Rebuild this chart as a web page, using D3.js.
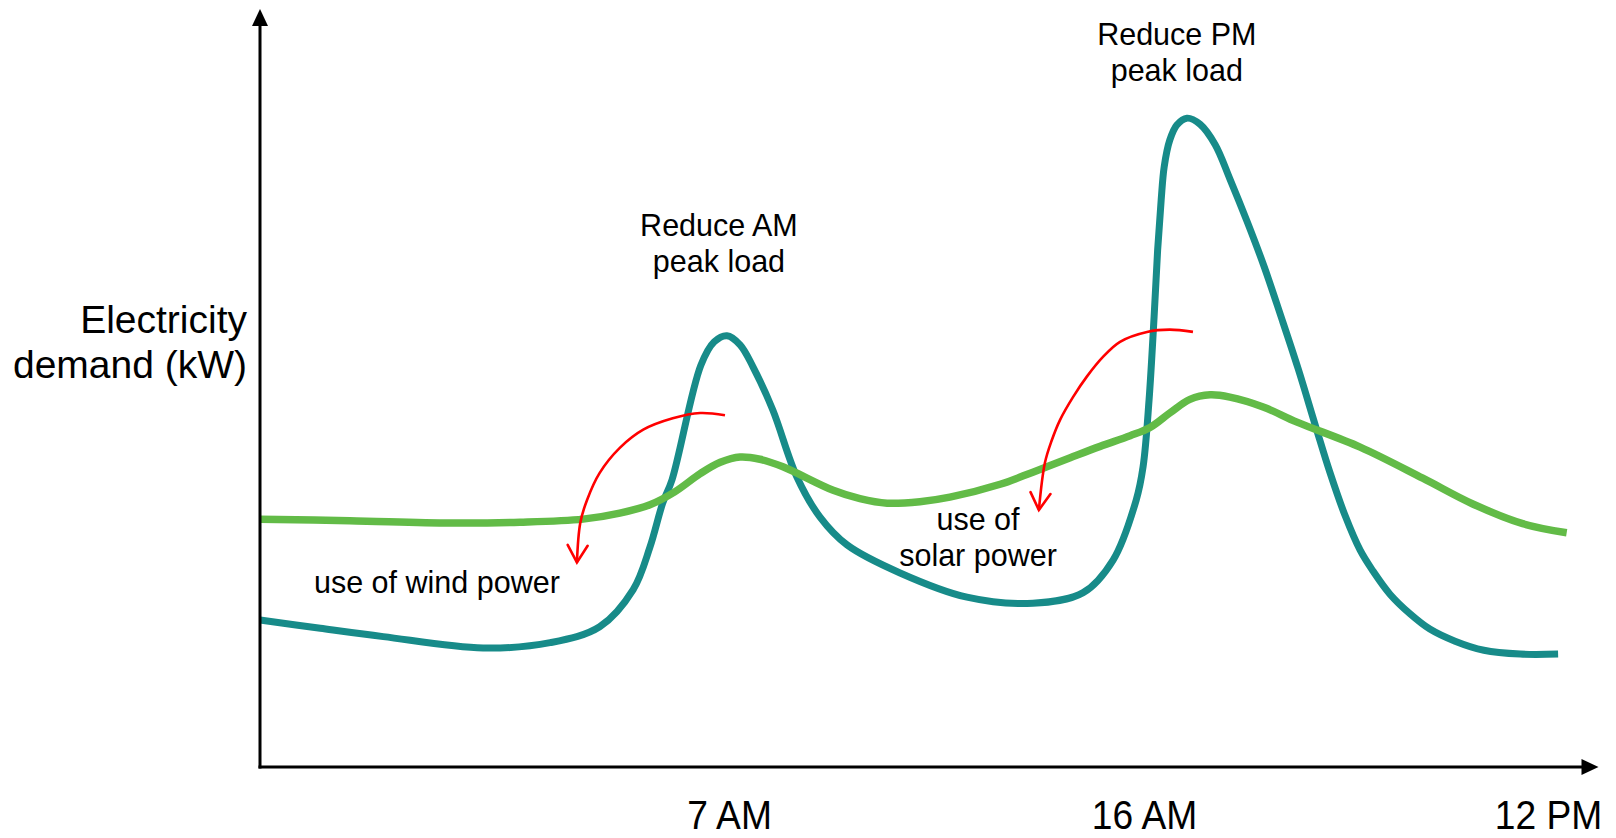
<!DOCTYPE html>
<html><head><meta charset="utf-8">
<script src="https://cdn.jsdelivr.net/npm/d3@7"></script>
<style>
html,body{margin:0;padding:0;background:#fff;}
svg{display:block;font-family:"Liberation Sans",Arial,Helvetica,sans-serif;}
</style></head><body>
<svg id="chart" width="1616" height="838"></svg>
<script>
// ---------- data ----------
const hourKnots = [0, 7, 16, 24];          // x-scale knots (hours)
const tickValues = [7, 16, 24];
const tickLabels = ["7 AM", "16 AM", "12 PM"];
const xMax = 25;
const yMax = 100;
const yLabelLines = ["Electricity", "demand (kW)"];

// original demand profile (teal)
const demandHours = [0, 0.9, 1.84, 3.33, 4.33, 5.07, 5.57, 5.82, 6.01, 6.15, 6.58, 6.78, 6.97, 7.24, 7.52, 7.95, 8.47, 8.97, 9.56, 10.71, 12.16, 13.59, 14.68, 15.33, 15.83, 15.98, 16.10, 16.20, 16.27, 16.34, 16.40, 16.51, 16.65, 16.85, 17.11, 17.41, 17.70, 18.04, 18.38, 18.71, 19.05, 19.41, 19.68, 19.98, 20.28, 20.53, 20.87, 21.27, 21.66, 22.16, 22.73, 23.45, 24.2];
const demandValues = [19.4, 18.3, 17.2, 15.7, 16.4, 18.5, 23.4, 29.0, 34.8, 37.9, 53.0, 56.1, 56.9, 55.7, 52.8, 47.1, 38.3, 33.0, 29.3, 25.6, 22.4, 21.6, 23.0, 27.3, 35.2, 39.6, 48.4, 59.4, 68.2, 74.8, 79.2, 82.7, 84.7, 85.6, 84.8, 82.1, 77.6, 72.0, 66.0, 59.5, 52.6, 44.7, 38.9, 33.2, 28.6, 25.9, 22.8, 20.2, 18.2, 16.6, 15.4, 14.9, 14.9];

// flattened demand profile (green)
const flatHours = [0, 1.34, 2.84, 3.88, 4.82, 5.37, 5.82, 6.19, 6.57, 6.87, 7.24, 7.67, 8.17, 9.26, 9.84, 10.43, 11.14, 11.79, 12.88, 13.59, 14.4, 15.05, 15.70, 16.12, 16.51, 16.91, 17.31, 17.70, 18.36, 19.03, 20.28, 21.52, 22.51, 23.5, 24.37];
const flatValues = [32.7, 32.5, 32.2, 32.3, 32.7, 33.5, 34.6, 36.3, 38.7, 40.2, 40.9, 40.6, 39.6, 36.5, 35.4, 34.8, 35.0, 35.6, 37.3, 38.9, 40.8, 42.3, 43.7, 44.8, 46.7, 48.5, 49.1, 48.8, 47.5, 45.5, 42.2, 38.1, 34.7, 32.1, 30.9];

// shifting arrows (red)
const windArrowHours = [6.94, 6.57, 6.16, 5.72, 5.37, 5.07, 4.88, 4.78, 4.73];
const windArrowValues = [46.4, 46.7, 46.0, 44.5, 42.1, 38.8, 35.2, 32.2, 27.0];
const solarArrowHours = [16.97, 16.51, 16.06, 15.48, 15.11, 14.76, 14.46, 14.18, 14.0, 13.85, 13.72];
const solarArrowValues = [57.4, 57.7, 57.4, 56.1, 54.1, 51.5, 48.8, 45.8, 43.1, 40.1, 33.9];

// annotations
const annoTexts = [["Reduce AM", "peak load"], ["Reduce PM", "peak load"], ["use of wind power"], ["use of", "solar power"]];
const annoHours = [6.85, 16.65, 2.64, 12.40];
const annoValues = [70.05, 95.25, 22.96, 31.27];

// ---------- chart ----------
const svg = d3.select("#chart");
const x = d3.scaleLinear().domain(hourKnots).range([260, 729, 1144, 1548]);
const y = d3.scaleLinear().domain([0, yMax]).range([767, 9]);

const teal = "#178b89", green = "#62bb47", red = "#ff0000";

// markers
const defs = svg.append("defs");
defs.append("marker")
  .attr("id", "redHead")
  .attr("markerUnits", "userSpaceOnUse")
  .attr("viewBox", "-22 -13 26 26")
  .attr("markerWidth", 26).attr("markerHeight", 26)
  .attr("refX", 0).attr("refY", 0)
  .attr("orient", "auto")
  .append("path")
  .attr("d", "M-17,-10 L0,0 L-17,10")
  .attr("fill", "none").attr("stroke", red)
  .attr("stroke-width", 2.6).attr("stroke-linecap", "round").attr("stroke-linejoin", "miter");

const line = d3.line().x(d => x(d[0])).y(d => y(d[1])).curve(d3.curveCatmullRom.alpha(0.5));
const arrowLine = d3.line().x(d => x(d[0])).y(d => y(d[1])).curve(d3.curveCatmullRom.alpha(0.5));

// series
svg.append("path")
  .datum(d3.zip(demandHours, demandValues))
  .attr("d", line)
  .attr("fill", "none").attr("stroke", teal).attr("stroke-width", 7)
  .attr("stroke-linejoin", "round");

svg.append("path")
  .datum(d3.zip(flatHours, flatValues))
  .attr("d", line)
  .attr("fill", "none").attr("stroke", green).attr("stroke-width", 7.5)
  .attr("stroke-linejoin", "round");

// arrows
[[windArrowHours, windArrowValues], [solarArrowHours, solarArrowValues]].forEach(([hs, vs]) => {
  svg.append("path")
    .datum(d3.zip(hs, vs))
    .attr("d", arrowLine)
    .attr("fill", "none").attr("stroke", red).attr("stroke-width", 2.6)
    .attr("marker-end", "url(#redHead)");
});

// axes lines
const x0 = x(0), y0 = y(0), xEnd = x(xMax), yEnd = y(yMax);
svg.append("line")
  .attr("x1", x0).attr("y1", y0 + 1.5).attr("x2", x0).attr("y2", yEnd + 14)
  .attr("stroke", "#000").attr("stroke-width", 3);
svg.append("path")
  .attr("d", `M${x0},${yEnd} L${x0 - 8},${yEnd + 17} L${x0 + 8},${yEnd + 17} Z`)
  .attr("fill", "#000");
svg.append("line")
  .attr("x1", x0 - 1.5).attr("y1", y0).attr("x2", xEnd - 14).attr("y2", y0)
  .attr("stroke", "#000").attr("stroke-width", 3);
svg.append("path")
  .attr("d", `M${xEnd},${y0} L${xEnd - 17},${y0 - 8} L${xEnd - 17},${y0 + 8} Z`)
  .attr("fill", "#000");

// x axis tick labels
const xAxis = d3.axisBottom(x)
  .tickValues(tickValues)
  .tickFormat((d, i) => tickLabels[i])
  .tickSize(0).tickPadding(34);
const gx = svg.append("g").attr("transform", `translate(0,${y0})`).call(xAxis);
gx.select(".domain").remove();
gx.selectAll("text")
  .attr("font-family", "'Liberation Sans', Arial, sans-serif")
  .attr("font-size", 40).attr("fill", "#000")
  .attr("transform", "scale(0.93,1)");

// y label
const yl = svg.append("text")
  .attr("text-anchor", "end")
  .attr("font-size", 39).attr("fill", "#000");
yLabelLines.forEach((s, i) => {
  yl.append("tspan").attr("x", x0 - 13).attr("y", 333 + i * 45).text(s);
});

// annotations
annoTexts.forEach((lines, i) => {
  const t = svg.append("text")
    .attr("text-anchor", "middle")
    .attr("font-size", 30.5).attr("fill", "#000");
  lines.forEach((s, j) => {
    t.append("tspan")
      .attr("x", x(annoHours[i]))
      .attr("y", y(annoValues[i]))
      .attr("dy", (j * 1.17) + "em")
      .text(s);
  });
});
</script>
</body></html>
